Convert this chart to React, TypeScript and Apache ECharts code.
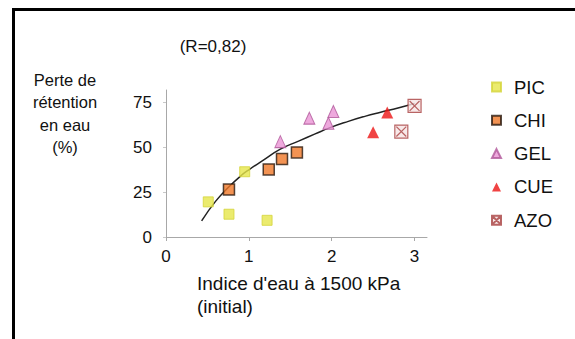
import React, { useEffect, useRef } from 'react';
import * as echarts from 'echarts';

const xTicks = [0, 1, 2, 3];
const yTicks = [0, 25, 50, 75];

const seriesNames = ['PIC', 'CHI', 'GEL', 'CUE', 'AZO'];

const picX = [0.51, 0.76, 0.95, 1.22];
const picY = [19.6, 12.7, 36.4, 9.3];

const chiX = [0.76, 1.24, 1.4, 1.58];
const chiY = [26.5, 37.7, 43.5, 47.2];

const gelX = [1.38, 1.73, 1.96, 2.02];
const gelY = [53.2, 66.3, 63.5, 70];

const cueX = [2.5, 2.67];
const cueY = [58.4, 69.4];

const azoX = [3.0, 2.84];
const azoY = [73.1, 58.8];

const curveX = [0.43, 0.6, 0.76, 0.9, 1.0, 1.18, 1.38, 1.6, 1.8, 1.98, 2.2, 2.4, 2.58, 2.8, 3.0];
const curveY = [9, 20, 28, 34, 37.5, 43, 49, 53.5, 57.5, 61, 64.5, 67.3, 69.5, 72, 74.5];

const rLabel = '(R=0,82)';
const yTitle = 'Perte de\nrétention\nen eau\n(%)';
const xTitle = "Indice d'eau à 1500 kPa\n(initial)";

const zip = (xs: number[], ys: number[]) => xs.map((x, i) => [x, ys[i]]);

const FONT = '"Liberation Sans", Arial, sans-serif';

export default function App() {
  const ref = useRef<HTMLDivElement>(null);

  useEffect(() => {
    document.body.style.margin = '0';
    if (!ref.current) return;
    const chart = echarts.init(ref.current, undefined, { renderer: 'svg' });
    const azoSymbol = 'path://M0,0H10V10H0Z M1.2,1.2L8.8,8.8 M8.8,1.2L1.2,8.8';
    chart.setOption({
      animation: false,
      backgroundColor: '#ffffff',
      textStyle: { fontFamily: FONT, color: '#111' },
      grid: { left: 166, right: 148, top: 90, bottom: 102, containLabel: false },
      xAxis: {
        type: 'value',
        min: 0,
        max: 3.15,
        interval: 1,
        axisLine: { show: true, lineStyle: { color: '#a8a8a8', width: 1 } },
        axisTick: { show: true, length: 4, customValues: xTicks, lineStyle: { color: '#a8a8a8' } },
        axisLabel: { customValues: xTicks, fontSize: 17, color: '#111', margin: 11, fontFamily: FONT },
        splitLine: { show: false },
      },
      yAxis: {
        type: 'value',
        min: 0,
        max: 82,
        interval: 25,
        axisLine: { show: true, lineStyle: { color: '#a8a8a8', width: 1 } },
        axisTick: { show: true, length: 3, customValues: yTicks, lineStyle: { color: '#c8c8c8' } },
        axisLabel: { customValues: yTicks, fontSize: 17, color: '#111', margin: 14, fontFamily: FONT },
        splitLine: { show: false },
      },
      legend: {
        orient: 'vertical',
        left: 486,
        top: 72,
        padding: 5,
        itemWidth: 9,
        itemHeight: 9,
        itemGap: 13.3,
        data: seriesNames,
        textStyle: { fontSize: 18.5, lineHeight: 20, color: '#111', fontFamily: FONT, padding: [0, 0, 0, 8] },
      },
      graphic: [
        {
          type: 'rect',
          silent: true,
          shape: { x: 13.5, y: 9.5, width: 700, height: 500 },
          style: { fill: 'none', stroke: '#000', lineWidth: 3 },
        },
        {
          type: 'text',
          x: 213,
          y: 46,
          style: { text: rLabel, textAlign: 'center', textVerticalAlign: 'middle', font: `17px ${FONT}`, fill: '#111' },
        },
        {
          type: 'text',
          x: 65,
          y: 69,
          style: { text: yTitle, textAlign: 'center', textVerticalAlign: 'top', lineHeight: 22.3, font: `16.5px ${FONT}`, fill: '#111' },
        },
        {
          type: 'text',
          x: 197,
          y: 272,
          style: { text: xTitle, textAlign: 'left', textVerticalAlign: 'top', lineHeight: 23, font: `19px ${FONT}`, fill: '#111' },
        },
      ],
      series: [
        {
          name: 'curve',
          type: 'line',
          data: zip(curveX, curveY),
          smooth: true,
          showSymbol: false,
          lineStyle: { color: '#222', width: 1.5 },
          silent: true,
          z: 1,
        },
        {
          name: 'PIC',
          type: 'scatter',
          symbol: 'rect',
          symbolSize: 10,
          data: zip(picX, picY),
          itemStyle: { color: '#e6e64a', borderColor: '#d4d43a', borderWidth: 1 },
          z: 3,
        },
        {
          name: 'CHI',
          type: 'scatter',
          symbol: 'rect',
          symbolSize: 11,
          data: zip(chiX, chiY),
          itemStyle: { color: '#f07828', borderColor: '#2a1a10', borderWidth: 1.5 },
          z: 3,
        },
        {
          name: 'GEL',
          type: 'scatter',
          symbol: 'triangle',
          symbolSize: [11, 12],
          data: zip(gelX, gelY),
          itemStyle: { color: '#ea94d4', borderColor: '#b0589a', borderWidth: 1 },
          z: 3,
        },
        {
          name: 'CUE',
          type: 'scatter',
          symbol: 'triangle',
          symbolSize: [12, 12],
          data: zip(cueX, cueY),
          itemStyle: { color: '#ec1414' },
          z: 3,
        },
        {
          name: 'AZO',
          type: 'scatter',
          symbol: azoSymbol,
          symbolSize: 13,
          data: zip(azoX, azoY),
          itemStyle: { color: '#f6e4e4', borderColor: '#a84040', borderWidth: 1.2 },
          z: 3,
        },
      ],
    });
    return () => chart.dispose();
  }, []);

  return <div ref={ref} style={{ width: 575, height: 339 }} />;
}
